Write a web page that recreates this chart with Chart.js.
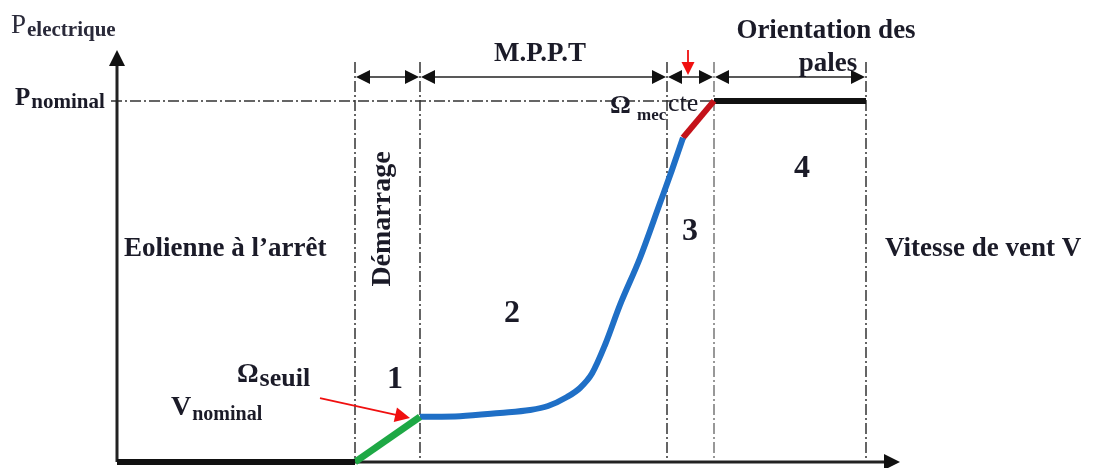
<!DOCTYPE html>
<html>
<head>
<meta charset="utf-8">
<script src="https://cdn.jsdelivr.net/npm/chart.js@4.4.1/dist/chart.umd.min.js"></script>
<style>
  html, body { margin: 0; padding: 0; background: #fff; }
  canvas { display: block; }
</style>
</head>
<body>
<canvas id="curve" width="1093" height="468"></canvas>
<script>
// Wind speed (arbitrary units) and electric power (P / P_nominal)
// Zone boundaries on the wind speed axis
const zoneBounds = [4.76, 6.06, 11.0, 11.94, 14.98];
const zoneNames = ["1", "2", "3", "4"];

// Zone 0: turbine stopped
const stopV = [0, 4.76];
const stopP = [0, 0];
// Zone 1: start-up
const startV = [4.76, 6.06];
const startP = [0, 0.125];
// Zone 2: MPPT
const mpptV = [6.06, 6.86, 7.66, 8.26, 8.62, 9.0, 9.26, 9.5, 9.76, 10.06, 10.46, 10.86, 11.1, 11.32];
const mpptP = [0.125, 0.127, 0.136, 0.144, 0.155, 0.18, 0.205, 0.245, 0.324, 0.435, 0.565, 0.717, 0.809, 0.898];
// Zone 3: constant speed
const cteV = [11.32, 11.94];
const cteP = [0.898, 1.0];
// Zone 4: pitch control
const pitchV = [11.94, 14.98];
const pitchP = [1.0, 1.0];

function pts(xs, ys) {
    return xs.map((x, i) => ({ x: x, y: ys[i] }));
}

const SERIF = '"Liberation Serif", "DejaVu Serif", serif';
const INK = '#1b1b28';

function arrowHead(ctx, x, y, dir, size) {
    // dir: angle in radians the arrow points to
    ctx.save();
    ctx.translate(x, y);
    ctx.rotate(dir);
    ctx.beginPath();
    ctx.moveTo(0, 0);
    ctx.lineTo(-size, -size * 0.5);
    ctx.lineTo(-size, size * 0.5);
    ctx.closePath();
    ctx.fill();
    ctx.restore();
}

function subText(ctx, x, y, main, sub, mainSize, subSize, drop, weight) {
    const w0 = weight || 'bold';
    ctx.font = w0 + ' ' + mainSize + 'px ' + SERIF;
    ctx.fillText(main, x, y);
    const w = ctx.measureText(main).width;
    ctx.font = 'bold ' + subSize + 'px ' + SERIF;
    ctx.fillText(sub, x + w + 1, y + drop);
}

// Axes, zone guides and annotations
const diagramPlugin = {
    id: 'diagram',
    beforeDatasetsDraw(chart) {
        const ctx = chart.ctx;
        const xs = chart.scales.x, ys = chart.scales.y;
        const x0 = xs.getPixelForValue(0), y0 = ys.getPixelForValue(0);
        const yNom = ys.getPixelForValue(1);
        const yGuideTop = ys.getPixelForValue(1.108);

        ctx.save();
        // dash-dot guides
        ctx.strokeStyle = '#333';
        ctx.lineWidth = 1.5;
        ctx.setLineDash([11, 3, 2, 3]);
        ctx.beginPath();
        ctx.moveTo(x0 - 6, yNom);
        ctx.lineTo(xs.getPixelForValue(zoneBounds[3]), yNom);
        ctx.stroke();
        zoneBounds.forEach((b, i) => {
            ctx.strokeStyle = i === 3 ? '#777' : '#333';
            const px = xs.getPixelForValue(b);
            ctx.beginPath();
            ctx.moveTo(px, yGuideTop);
            ctx.lineTo(px, y0);
            ctx.stroke();
        });
        ctx.setLineDash([]);

        // axes with arrows
        ctx.strokeStyle = '#222';
        ctx.fillStyle = '#111';
        ctx.lineWidth = 3;
        ctx.beginPath();
        ctx.moveTo(x0, y0);
        ctx.lineTo(x0, chart.chartArea.top + 12);
        ctx.moveTo(x0, y0);
        ctx.lineTo(chart.chartArea.right - 12, y0);
        ctx.stroke();
        arrowHead(ctx, x0, chart.chartArea.top, -Math.PI / 2, 16);
        arrowHead(ctx, chart.chartArea.right, y0, 0, 16);

        // double arrows over the zones
        const yArr = ys.getPixelForValue(1.066);
        ctx.lineWidth = 1.5;
        for (let i = 0; i < zoneBounds.length - 1; i++) {
            const a = xs.getPixelForValue(zoneBounds[i]) + 1;
            const b = xs.getPixelForValue(zoneBounds[i + 1]) - 1;
            ctx.beginPath();
            ctx.moveTo(a + 6, yArr);
            ctx.lineTo(b - 6, yArr);
            ctx.stroke();
            arrowHead(ctx, a, yArr, Math.PI, 14);
            arrowHead(ctx, b, yArr, 0, 14);
        }

        // red arrows
        ctx.strokeStyle = '#f01010';
        ctx.fillStyle = '#f01010';
        ctx.lineWidth = 1.8;
        const rx = xs.getPixelForValue(11.42);
        ctx.beginPath();
        ctx.moveTo(rx, ys.getPixelForValue(1.141));
        ctx.lineTo(rx, ys.getPixelForValue(1.1));
        ctx.stroke();
        arrowHead(ctx, rx, ys.getPixelForValue(1.072), Math.PI / 2, 13);

        const ax = xs.getPixelForValue(4.06), ay = ys.getPixelForValue(0.177);
        const bx = xs.getPixelForValue(5.86), by = ys.getPixelForValue(0.122);
        const ang = Math.atan2(by - ay, bx - ax);
        ctx.beginPath();
        ctx.moveTo(ax, ay);
        ctx.lineTo(bx - 12 * Math.cos(ang), by - 12 * Math.sin(ang));
        ctx.stroke();
        arrowHead(ctx, bx, by, ang, 15);

        // texts
        ctx.textBaseline = 'alphabetic';
        ctx.textAlign = 'left';

        ctx.fillStyle = '#2a2a3a';
        subText(ctx, 11, 33, 'P', 'electrique', 27, 21, 3, 'normal');

        ctx.fillStyle = INK;
        subText(ctx, 15, 105, 'P', 'nominal', 25, 21, 3);
        subText(ctx, 237, 382, 'Ω', 'seuil', 27, 26, 4);
        subText(ctx, 171, 415, 'V', 'nominal', 28, 20, 5);
        ctx.font = 'bold 26px ' + SERIF;
        ctx.fillText('Ω', 610, 113);
        ctx.font = 'bold 17px ' + SERIF;
        ctx.fillText('mec', 637, 120);
        ctx.font = '26px ' + SERIF;
        ctx.fillText('cte', 668, 111);

        ctx.font = 'bold 27px ' + SERIF;
        ctx.fillText('Eolienne à l\u2019arrêt', 124, 256);
        ctx.fillText('Vitesse de vent V', 885, 256);
        ctx.textAlign = 'center';
        ctx.fillText('M.P.P.T', 540, 61);
        ctx.fillText('Orientation des', 826, 38);
        ctx.fillText('pales', 828, 71);

        // zone numbers
        ctx.font = 'bold 32px ' + SERIF;
        const numPos = [[5.56, 0.205], [7.9, 0.388], [11.46, 0.615], [13.7, 0.789]];
        zoneNames.forEach((n, i) => {
            ctx.fillText(n, xs.getPixelForValue(numPos[i][0]), ys.getPixelForValue(numPos[i][1]));
        });

        // rotated label
        ctx.save();
        ctx.translate(xs.getPixelForValue(5.46), ys.getPixelForValue(0.673));
        ctx.rotate(-Math.PI / 2);
        ctx.font = 'bold 28px ' + SERIF;
        ctx.fillText('Démarrage', 0, 0);
        ctx.restore();

        ctx.restore();
    }
};

const line = (data, color, width) => ({
    data: data,
    borderColor: color,
    borderWidth: width,
    pointRadius: 0,
    fill: false,
    clip: false,
    borderCapStyle: 'butt',
    borderJoinStyle: 'round'
});

new Chart(document.getElementById('curve'), {
    type: 'line',
    data: {
        datasets: [
            line(pts(stopV, stopP), '#111', 6),
            line(pts(startV, startP), '#1ea845', 7),
            Object.assign(line(pts(mpptV, mpptP), '#1f6fc6', 6), { cubicInterpolationMode: 'monotone' }),
            line(pts(cteV, cteP), '#c4121a', 6),
            line(pts(pitchV, pitchP), '#111', 6)
        ]
    },
    options: {
        responsive: false,
        animation: false,
        devicePixelRatio: 1,
        layout: { padding: { left: 117, right: 193, top: 50, bottom: 6 } },
        plugins: { legend: { display: false }, tooltip: { enabled: false } },
        scales: {
            x: { type: 'linear', min: 0, max: 15.66, display: false },
            y: { type: 'linear', min: 0, max: 1.141, display: false }
        }
    },
    plugins: [diagramPlugin]
});
</script>
</body>
</html>
